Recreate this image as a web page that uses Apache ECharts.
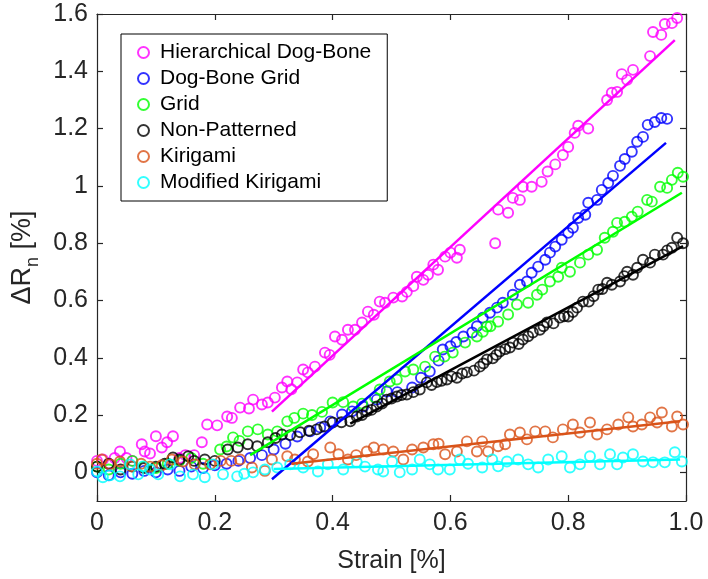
<!DOCTYPE html>
<html><head><meta charset="utf-8">
<script src="https://cdn.jsdelivr.net/npm/echarts@6/dist/echarts.min.js"></script>
<style>html,body{margin:0;padding:0;background:#fff}#c{width:708px;height:579px}</style>
</head><body><div id="c"></div>
<script>
const seriesNames = ['Hierarchical Dog-Bone','Dog-Bone Grid','Grid','Non-Patterned','Kirigami','Modified Kirigami'];
const seriesColors = ['#FF00FF','#0000FF','#00FF00','#000000','#D95319','#00FFFF'];
const xTicks = [0,0.2,0.4,0.6,0.8,1];
const yTicks = [0,0.2,0.4,0.6,0.8,1,1.2,1.4,1.6];

const hdb = [[0.0,0.04],[0.01,0.045],[0.02,0.03],[0.03,0.05],[0.039,0.073],[0.05,0.05],[0.06,0.04],[0.076,0.098],[0.081,0.073],[0.09,0.066],[0.10,0.126],[0.11,0.087],[0.119,0.105],[0.129,0.126],[0.14,0.05],[0.15,0.06],[0.165,0.06],[0.178,0.105],[0.187,0.167],[0.204,0.164],[0.221,0.195],[0.229,0.19],[0.243,0.226],[0.258,0.223],[0.265,0.254],[0.28,0.237],[0.29,0.244],[0.302,0.261],[0.314,0.296],[0.323,0.317],[0.33,0.29],[0.34,0.314],[0.35,0.359],[0.358,0.349],[0.37,0.369],[0.387,0.418],[0.395,0.41],[0.404,0.474],[0.416,0.463],[0.426,0.498],[0.438,0.498],[0.45,0.523],[0.46,0.561],[0.47,0.55],[0.48,0.596],[0.489,0.592],[0.503,0.61],[0.518,0.614],[0.526,0.63],[0.537,0.65],[0.543,0.683],[0.554,0.672],[0.562,0.69],[0.571,0.725],[0.579,0.707],[0.591,0.753],[0.6,0.767],[0.611,0.749],[0.616,0.777],[0.676,0.80],[0.681,0.917],[0.698,0.906],[0.706,0.958],[0.718,0.951],[0.723,0.997],[0.738,0.997],[0.755,1.014],[0.765,1.05],[0.778,1.075],[0.791,1.108],[0.80,1.136],[0.811,1.185],[0.817,1.21],[0.834,1.2],[0.866,1.30],[0.874,1.325],[0.883,1.328],[0.891,1.39],[0.90,1.37],[0.91,1.405],[0.939,1.453],[0.944,1.537],[0.958,1.527],[0.964,1.565],[0.976,1.568],[0.985,1.586]];
const dbg = [[0.0,0.0],[0.02,-0.01],[0.04,0.0],[0.06,-0.005],[0.08,0.005],[0.10,0.0],[0.12,0.01],[0.14,0.005],[0.16,0.02],[0.18,0.015],[0.20,0.025],[0.22,0.03],[0.24,0.04],[0.26,0.05],[0.28,0.06],[0.30,0.08],[0.32,0.1],[0.34,0.125],[0.362,0.143],[0.379,0.157],[0.396,0.178],[0.416,0.202],[0.433,0.213],[0.452,0.23],[0.475,0.254],[0.492,0.282],[0.51,0.28],[0.535,0.296],[0.55,0.33],[0.565,0.352],[0.58,0.39],[0.587,0.429],[0.6,0.44],[0.61,0.455],[0.622,0.474],[0.637,0.488],[0.645,0.51],[0.655,0.54],[0.667,0.557],[0.679,0.575],[0.689,0.592],[0.706,0.62],[0.718,0.655],[0.73,0.666],[0.738,0.697],[0.749,0.718],[0.761,0.742],[0.769,0.767],[0.778,0.788],[0.789,0.812],[0.80,0.836],[0.808,0.854],[0.817,0.888],[0.829,0.899],[0.834,0.941],[0.849,0.951],[0.857,0.986],[0.868,1.01],[0.876,1.035],[0.888,1.07],[0.896,1.094],[0.908,1.119],[0.917,1.154],[0.927,1.171],[0.935,1.213],[0.947,1.223],[0.958,1.237],[0.968,1.234]];
const grid = [[0.0,0.02],[0.02,0.01],[0.04,0.03],[0.06,0.04],[0.08,0.02],[0.10,0.015],[0.12,0.03],[0.14,0.04],[0.16,0.05],[0.18,0.03],[0.209,0.08],[0.22,0.09],[0.231,0.122],[0.242,0.11],[0.256,0.143],[0.273,0.15],[0.29,0.132],[0.306,0.143],[0.323,0.178],[0.335,0.19],[0.35,0.205],[0.365,0.2],[0.382,0.211],[0.40,0.244],[0.418,0.245],[0.435,0.23],[0.45,0.24],[0.472,0.261],[0.48,0.289],[0.497,0.317],[0.509,0.324],[0.523,0.352],[0.537,0.359],[0.557,0.369],[0.574,0.404],[0.59,0.404],[0.604,0.418],[0.625,0.453],[0.645,0.474],[0.655,0.491],[0.662,0.509],[0.668,0.51],[0.681,0.526],[0.698,0.551],[0.713,0.586],[0.732,0.592],[0.747,0.62],[0.756,0.638],[0.769,0.666],[0.783,0.683],[0.789,0.714],[0.803,0.70],[0.82,0.732],[0.834,0.76],[0.849,0.777],[0.862,0.819],[0.876,0.84],[0.883,0.871],[0.896,0.875],[0.908,0.892],[0.918,0.91],[0.934,0.951],[0.942,0.945],[0.956,0.997],[0.968,0.993],[0.976,1.021],[0.986,1.046],[0.995,1.032]];
const nonPat = [[0.0,0.02],[0.02,0.03],[0.04,0.01],[0.06,0.02],[0.08,0.015],[0.10,0.02],[0.115,0.03],[0.129,0.052],[0.14,0.045],[0.155,0.056],[0.165,0.04],[0.183,0.045],[0.2,0.04],[0.222,0.08],[0.239,0.087],[0.256,0.098],[0.272,0.091],[0.29,0.105],[0.303,0.12],[0.314,0.132],[0.328,0.13],[0.345,0.14],[0.36,0.145],[0.373,0.15],[0.386,0.16],[0.40,0.174],[0.415,0.175],[0.43,0.178],[0.441,0.195],[0.45,0.2],[0.458,0.213],[0.466,0.218],[0.475,0.23],[0.484,0.24],[0.492,0.254],[0.5,0.258],[0.509,0.265],[0.517,0.27],[0.526,0.272],[0.537,0.28],[0.548,0.289],[0.56,0.314],[0.568,0.305],[0.577,0.315],[0.585,0.32],[0.594,0.324],[0.602,0.335],[0.611,0.33],[0.62,0.345],[0.628,0.349],[0.64,0.355],[0.65,0.369],[0.656,0.38],[0.662,0.394],[0.672,0.398],[0.678,0.41],[0.684,0.422],[0.693,0.43],[0.701,0.436],[0.706,0.453],[0.716,0.448],[0.723,0.464],[0.732,0.475],[0.74,0.488],[0.752,0.498],[0.758,0.51],[0.764,0.523],[0.775,0.52],[0.786,0.54],[0.793,0.545],[0.80,0.544],[0.808,0.56],[0.815,0.575],[0.825,0.596],[0.835,0.596],[0.843,0.615],[0.851,0.638],[0.858,0.64],[0.866,0.662],[0.874,0.655],[0.888,0.666],[0.895,0.685],[0.90,0.70],[0.91,0.69],[0.917,0.714],[0.927,0.742],[0.939,0.732],[0.947,0.76],[0.961,0.76],[0.968,0.775],[0.976,0.784],[0.985,0.819],[0.995,0.80]];
const kiri = [[0.0,0.03],[0.008,0.045],[0.022,0.028],[0.039,0.038],[0.059,0.021],[0.075,0.03],[0.09,0.02],[0.11,0.025],[0.127,0.045],[0.146,0.038],[0.166,0.028],[0.192,0.028],[0.21,0.04],[0.228,0.04],[0.243,0.045],[0.263,0.017],[0.285,0.005],[0.297,0.045],[0.323,0.056],[0.336,0.045],[0.358,0.038],[0.367,0.063],[0.396,0.087],[0.41,0.063],[0.426,0.045],[0.44,0.06],[0.458,0.073],[0.47,0.087],[0.486,0.08],[0.503,0.073],[0.52,0.045],[0.535,0.08],[0.554,0.087],[0.571,0.098],[0.58,0.1],[0.591,0.063],[0.611,0.073],[0.628,0.108],[0.645,0.073],[0.654,0.108],[0.664,0.073],[0.681,0.091],[0.693,0.098],[0.701,0.132],[0.718,0.139],[0.73,0.115],[0.744,0.143],[0.761,0.143],[0.774,0.122],[0.791,0.15],[0.808,0.167],[0.82,0.139],[0.837,0.174],[0.849,0.132],[0.866,0.15],[0.885,0.167],[0.902,0.192],[0.91,0.16],[0.925,0.167],[0.939,0.192],[0.951,0.174],[0.959,0.209],[0.976,0.16],[0.985,0.195],[0.995,0.167]];
const modKiri = [[0.0,0.003],[0.01,-0.017],[0.022,-0.01],[0.039,-0.014],[0.056,0.028],[0.07,-0.007],[0.078,0.021],[0.09,0.01],[0.104,-0.007],[0.124,0.028],[0.141,-0.014],[0.163,-0.007],[0.183,-0.017],[0.197,0.028],[0.214,-0.007],[0.238,-0.014],[0.25,-0.005],[0.265,0.0],[0.285,0.01],[0.306,0.017],[0.328,0.028],[0.35,0.017],[0.375,0.003],[0.392,0.028],[0.418,0.01],[0.441,0.035],[0.455,0.02],[0.477,0.01],[0.486,0.003],[0.501,0.038],[0.514,0.0],[0.535,0.01],[0.548,0.045],[0.565,0.028],[0.579,0.01],[0.599,0.01],[0.616,0.045],[0.63,0.03],[0.654,0.017],[0.671,0.045],[0.681,0.021],[0.696,0.038],[0.715,0.045],[0.732,0.028],[0.749,0.017],[0.766,0.045],[0.789,0.056],[0.803,0.017],[0.82,0.028],[0.837,0.056],[0.854,0.028],[0.871,0.063],[0.883,0.028],[0.893,0.052],[0.91,0.063],[0.927,0.038],[0.944,0.035],[0.964,0.035],[0.981,0.07],[0.993,0.038]];

// linear fit line endpoints
const hdbFit = [[0.297,0.212],[0.981,1.509]];
const dbgFit = [[0.297,-0.024],[0.966,1.15]];
const gridFit = [[0.26,0.06],[0.993,0.976]];
const nonPatFit = [[0.43,0.17],[0.995,0.79]];
const kiriFit = [[0.33,0.03],[0.99,0.178]];
const modKiriFit = [[0.3,0.012],[0.99,0.045]];

const scatterData = [hdb, dbg, grid, nonPat, kiri, modKiri];
const fitData = [hdbFit, dbgFit, gridFit, nonPatFit, kiriFit, modKiriFit];

const FONT = '"Liberation Sans", Arial, Helvetica, sans-serif';
const AX = '#262626';
const fmt = v => (v === 1 ? '1.0' : String(v));
const fmtY = v => String(v);

const series = [];
scatterData.forEach((d, i) => {
  series.push({
    name: seriesNames[i], type: 'scatter', data: d, symbol: 'circle', symbolSize: 10,
    itemStyle: { color: 'rgba(255,255,255,0)', borderColor: seriesColors[i], borderWidth: 1.9 },
    z: 2 + i, silent: true
  });
});
fitData.forEach((d, i) => {
  series.push({
    type: 'line', data: d, showSymbol: false, symbol: 'none',
    lineStyle: { color: seriesColors[i], width: 2.5 }, z: 20, silent: true
  });
});

const chart = echarts.init(document.getElementById('c'), null, { renderer: 'canvas' });
chart.setOption({
  animation: false,
  backgroundColor: '#fff',
  grid: { left: 97, right: 22, top: 14, bottom: 77, containLabel: false },
  xAxis: [
    { type: 'value', min: 0, max: 1, position: 'bottom',
      axisLine: { show: true, onZero: false, lineStyle: { color: AX, width: 1.2 } },
      axisTick: { show: true, inside: true, length: 6, customValues: xTicks, lineStyle: { color: AX, width: 1.2 } },
      axisLabel: { show: true, customValues: xTicks, formatter: fmt, fontSize: 25, color: AX, fontFamily: FONT, margin: 10 },
      splitLine: { show: false },
      name: 'Strain [%]', nameLocation: 'middle', nameGap: 48,
      nameTextStyle: { fontSize: 25, color: AX, fontFamily: FONT } },
    { type: 'value', min: 0, max: 1, position: 'top',
      axisLine: { show: true, onZero: false, lineStyle: { color: AX, width: 1.2 } },
      axisTick: { show: true, inside: true, length: 6, customValues: xTicks, lineStyle: { color: AX, width: 1.2 } },
      axisLabel: { show: false }, splitLine: { show: false } }
  ],
  yAxis: [
    { type: 'value', min: -0.1, max: 1.6, position: 'left',
      axisLine: { show: true, onZero: false, lineStyle: { color: AX, width: 1.2 } },
      axisTick: { show: true, inside: true, length: 6, customValues: yTicks, lineStyle: { color: AX, width: 1.2 } },
      axisLabel: { show: true, customValues: yTicks, formatter: fmtY, fontSize: 25, color: AX, fontFamily: FONT, margin: 9 },
      splitLine: { show: false },
      name: '{a|ΔR}{s|n}{a| [%]}', nameLocation: 'middle', nameGap: 58, nameRotate: 90,
      nameTextStyle: { color: AX, fontFamily: FONT,
        rich: { a: { fontSize: 27, color: AX, fontFamily: FONT, verticalAlign: 'bottom' },
                s: { fontSize: 18, color: AX, fontFamily: FONT, verticalAlign: 'bottom', padding: [0, 0, -6, 0] } } } },
    { type: 'value', min: -0.1, max: 1.6, position: 'right',
      axisLine: { show: true, onZero: false, lineStyle: { color: AX, width: 1.2 } },
      axisTick: { show: true, inside: true, length: 6, customValues: yTicks, lineStyle: { color: AX, width: 1.2 } },
      axisLabel: { show: false }, splitLine: { show: false } }
  ],
  legend: {
    left: 121, top: 34, orient: 'vertical', data: seriesNames, icon: 'circle',
    itemWidth: 11, itemHeight: 11, itemGap: 5, padding: [8, 16, 8, 16],
    borderColor: '#000', borderWidth: 1, backgroundColor: '#fff',
    textStyle: { fontSize: 21, color: '#000', fontFamily: FONT, lineHeight: 20, padding: [0, 0, 0, 6] },
    selectedMode: false
  },
  series: series
});
</script>
</body></html>
